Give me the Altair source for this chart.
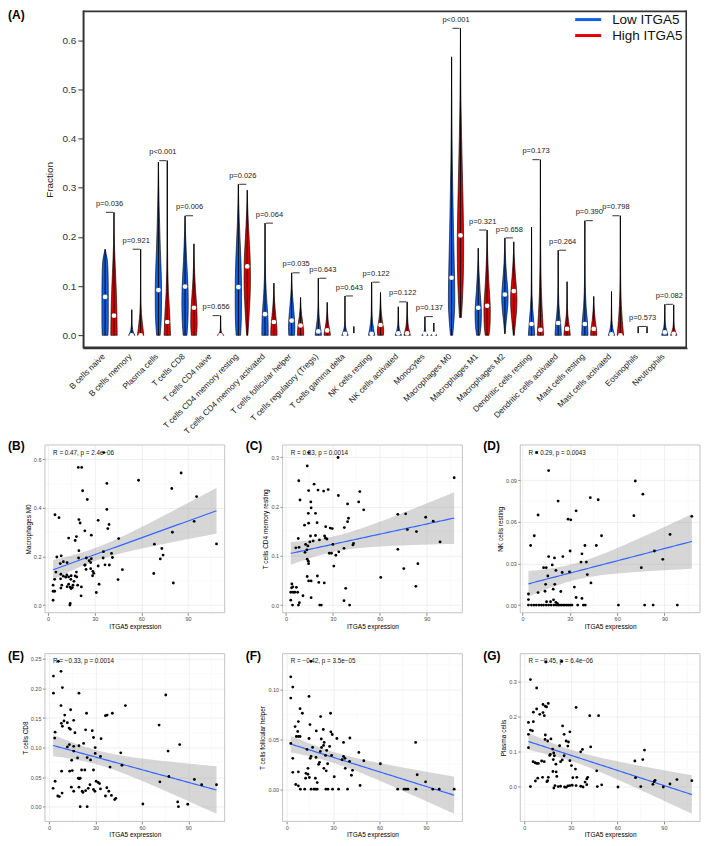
import altair as alt
import pandas as pd
import numpy as np

# ---------------- Panel A data (violins) ----------------
cells = ["B cells naive", "B cells memory", "Plasma cells", "T cells CD8", "T cells CD4 naive",
         "T cells CD4 memory resting", "T cells CD4 memory activated", "T cells follicular helper",
         "T cells regulatory (Tregs)", "T cells gamma delta", "NK cells resting", "NK cells activated",
         "Monocytes", "Macrophages M0", "Macrophages M1", "Macrophages M2", "Dendritic cells resting",
         "Dendritic cells activated", "Mast cells resting", "Mast cells activated", "Eosinophils", "Neutrophils"]

low_min = [0, 0, 0, 0, 0, 0, 0, 0, 0, 0, 0, 0, 0, 0, 0, 0.003, 0, 0, 0, 0, 0, 0]
low_max = [0.175, 0.052, 0.352, 0.243, 0.004, 0.307, 0.228, 0.127, 0.116, 0.080, 0.108, 0.058, 0.038,
           0.566, 0.177, 0.198, 0.220, 0.173, 0.233, 0.089, 0.018, 0.063]
low_med = [0.078, 0.0, 0.092, 0.099, 0.0, 0.098, 0.043, 0.030, 0.008, 0.003, 0.003, 0.004, 0.003,
           0.117, 0.056, 0.083, 0.023, 0.025, 0.023, 0.002, 0.0, 0.006]
high_min = [0, 0, 0, 0, 0, 0, 0, 0, 0, 0, 0, 0, 0, 0.036, 0, 0, 0, 0, 0, 0, 0, 0]
high_max = [0.250, 0.175, 0.355, 0.186, 0.040, 0.295, 0.106, 0.077, 0.067, 0.018, 0.087, 0.068, 0.025,
            0.624, 0.214, 0.190, 0.357, 0.109, 0.079, 0.243, 0.018, 0.062]
high_med = [0.040, 0.0, 0.027, 0.056, 0.0, 0.140, 0.027, 0.020, 0.010, 0.0, 0.021, 0.004, 0.003,
            0.203, 0.060, 0.090, 0.011, 0.013, 0.013, 0.0, 0.0, 0.003]

# relative violin widths, from the minimum (first) to the maximum (last)
low_shape = [
    [0.9, 1.0, 1.0, 1.0, 1.0, 0.97, 0.9, 0.7, 0.0],
    [1.0, 0.5, 0.25, 0.12, 0.06, 0.04, 0.03, 0.02, 0.0],
    [0.55, 0.95, 1.0, 0.85, 0.6, 0.4, 0.22, 0.1, 0.0],
    [0.6, 0.9, 1.0, 0.95, 0.75, 0.5, 0.3, 0.12, 0.0],
    [0.5, 0.4, 0.3, 0.2, 0.15, 0.1, 0.05, 0.02, 0.0],
    [0.7, 0.95, 1.0, 0.95, 0.8, 0.55, 0.3, 0.12, 0.0],
    [1.0, 0.95, 0.7, 0.4, 0.2, 0.1, 0.05, 0.03, 0.0],
    [0.9, 1.0, 0.9, 0.7, 0.5, 0.3, 0.15, 0.06, 0.0],
    [1.0, 0.7, 0.4, 0.2, 0.1, 0.06, 0.04, 0.02, 0.0],
    [1.0, 0.45, 0.15, 0.06, 0.04, 0.03, 0.02, 0.01, 0.0],
    [1.0, 0.6, 0.3, 0.15, 0.1, 0.07, 0.05, 0.03, 0.0],
    [1.0, 0.6, 0.3, 0.15, 0.1, 0.08, 0.05, 0.03, 0.0],
    [1.0, 0.45, 0.2, 0.1, 0.06, 0.04, 0.03, 0.02, 0.0],
    [0.35, 1.0, 0.85, 0.6, 0.4, 0.22, 0.1, 0.04, 0.0],
    [0.5, 0.9, 1.0, 0.85, 0.6, 0.4, 0.2, 0.08, 0.0],
    [0.05, 0.4, 0.8, 1.0, 0.8, 0.5, 0.25, 0.1, 0.0],
    [1.0, 0.7, 0.35, 0.15, 0.08, 0.05, 0.03, 0.02, 0.0],
    [1.0, 0.8, 0.45, 0.2, 0.1, 0.06, 0.04, 0.02, 0.0],
    [1.0, 0.8, 0.4, 0.18, 0.08, 0.05, 0.03, 0.02, 0.0],
    [1.0, 0.5, 0.25, 0.12, 0.08, 0.05, 0.03, 0.02, 0.0],
    [0.4, 0.1, 0.05, 0.03, 0.02, 0.02, 0.01, 0.01, 0.0],
    [1.0, 0.7, 0.35, 0.18, 0.1, 0.06, 0.04, 0.02, 0.0],
]
high_shape = [
    [1.0, 0.95, 0.85, 0.7, 0.5, 0.3, 0.12, 0.04, 0.0],
    [1.0, 0.6, 0.25, 0.1, 0.05, 0.03, 0.02, 0.015, 0.0],
    [1.0, 0.75, 0.35, 0.15, 0.08, 0.05, 0.03, 0.02, 0.0],
    [0.8, 1.0, 0.95, 0.75, 0.5, 0.3, 0.15, 0.06, 0.0],
    [1.0, 0.4, 0.15, 0.08, 0.05, 0.04, 0.03, 0.02, 0.0],
    [0.2, 0.55, 0.85, 1.0, 0.95, 0.7, 0.4, 0.15, 0.0],
    [1.0, 0.95, 0.8, 0.6, 0.4, 0.25, 0.12, 0.05, 0.0],
    [1.0, 0.95, 0.8, 0.6, 0.4, 0.25, 0.12, 0.05, 0.0],
    [1.0, 0.85, 0.6, 0.4, 0.25, 0.15, 0.08, 0.03, 0.0],
    [0.5, 0.2, 0.1, 0.05, 0.03, 0.02, 0.02, 0.01, 0.0],
    [0.9, 1.0, 0.75, 0.5, 0.3, 0.18, 0.1, 0.04, 0.0],
    [1.0, 0.7, 0.4, 0.25, 0.15, 0.1, 0.06, 0.03, 0.0],
    [1.0, 0.45, 0.2, 0.1, 0.06, 0.04, 0.03, 0.02, 0.0],
    [0.3, 0.85, 1.0, 0.85, 0.6, 0.35, 0.15, 0.05, 0.0],
    [0.6, 0.95, 1.0, 0.8, 0.55, 0.35, 0.18, 0.07, 0.0],
    [0.15, 0.5, 0.85, 1.0, 0.85, 0.55, 0.3, 0.1, 0.0],
    [1.0, 0.6, 0.3, 0.15, 0.08, 0.05, 0.03, 0.02, 0.0],
    [1.0, 0.8, 0.5, 0.25, 0.12, 0.07, 0.04, 0.02, 0.0],
    [1.0, 0.9, 0.7, 0.5, 0.35, 0.22, 0.12, 0.05, 0.0],
    [1.0, 0.6, 0.3, 0.15, 0.08, 0.05, 0.03, 0.02, 0.0],
    [0.4, 0.1, 0.05, 0.03, 0.02, 0.02, 0.01, 0.01, 0.0],
    [1.0, 0.55, 0.25, 0.12, 0.07, 0.05, 0.03, 0.02, 0.0],
]

p_labels = ["p=0.036", "p=0.921", "p<0.001", "p=0.006", "p=0.656", "p=0.026", "p=0.064", "p=0.035",
            "p=0.643", "p=0.643", "p=0.122", "p=0.122", "p=0.137", "p<0.001", "p=0.321", "p=0.658",
            "p=0.173", "p=0.264", "p=0.390", "p=0.798", "p=0.573", "p=0.082"]

group_names = ["Low ITGA5", "High ITGA5"]
group_colors = ["#1260e6", "#e30000"]
yticks_A = [0.0, 0.1, 0.2, 0.3, 0.4, 0.5, 0.6]

# ---------------- Scatter data (ITGA5 expression, fraction) ----------------
B_pts = [(35.8, 0.628), (19.4, 0.567), (21.6, 0.567), (22.2, 0.471), (37.8, 0.501), (58.2, 0.514), (85.6, 0.544),
         (79.6, 0.480), (95.6, 0.447), (25.2, 0.435), (4.4, 0.372), (7.0, 0.360), (37.8, 0.394), (19.8, 0.352),
         (20.6, 0.338), (32.2, 0.349), (39.2, 0.332), (38.4, 0.315), (23.6, 0.306), (80.0, 0.300), (94.0, 0.345),
         (108.4, 0.252), (27.8, 0.288), (18.2, 0.282), (17.4, 0.266), (13.2, 0.276), (45.4, 0.274), (68.4, 0.251),
         (73.2, 0.233), (74.0, 0.206), (72.2, 0.190), (68.0, 0.130), (80.6, 0.091), (47.8, 0.146), (45.0, 0.105),
         (40.8, 0.213), (41.4, 0.196), (39.4, 0.165), (35.6, 0.220), (35.4, 0.194), (36.6, 0.166), (32.2, 0.161),
         (32.8, 0.086), (31.0, 0.052), (28.8, 0.139), (28.6, 0.121), (29.4, 0.131), (27.8, 0.191), (26.4, 0.183),
         (27.4, 0.175), (27.4, 0.150), (24.6, 0.194), (23.8, 0.166), (24.4, 0.147), (23.6, 0.164), (19.8, 0.224),
         (19.6, 0.194), (18.4, 0.116), (19.0, 0.082), (21.2, 0.038), (21.4, 0.075), (18.2, 0.136), (16.6, 0.098),
         (12.2, 0.175), (9.8, 0.179), (8.4, 0.203), (7.8, 0.171), (8.2, 0.127), (9.8, 0.119), (11.4, 0.115),
         (13.2, 0.116), (14.8, 0.121), (14.6, 0.106), (12.0, 0.124), (13.2, 0.086), (12.2, 0.076), (14.2, 0.074),
         (14.8, 0.068), (14.2, 0.007), (14.0, 0.000), (15.6, 0.072), (8.0, 0.108), (8.8, 0.082), (8.2, 0.070),
         (5.0, 0.136), (5.6, 0.198), (4.2, 0.106), (3.2, 0.082), (3.2, 0.057), (4.2, 0.057), (3.2, 0.020),
         (16.0, 0.082), (17.4, 0.120)]

C_pts = [(14.5, 0.309), (33.3, 0.299), (13.6, 0.282), (8.2, 0.252), (107.5, 0.258), (18.0, 0.245), (9.0, 0.213),
         (14.5, 0.232), (20.5, 0.233), (27.0, 0.234), (24.1, 0.231), (47.2, 0.230), (49.7, 0.193), (46.5, 0.209),
         (33.5, 0.222), (39.4, 0.205), (40.0, 0.176), (39.4, 0.169), (15.9, 0.209), (16.1, 0.197), (14.3, 0.186),
         (18.9, 0.186), (14.5, 0.166), (11.9, 0.162), (19.9, 0.167), (25.4, 0.159), (28.3, 0.156), (29.6, 0.155),
         (37.3, 0.157), (21.4, 0.132), (25.2, 0.136), (26.2, 0.134), (24.7, 0.140), (18.9, 0.141), (15.7, 0.140),
         (17.4, 0.130), (15.3, 0.128), (14.0, 0.120), (12.6, 0.123), (13.4, 0.112), (8.4, 0.117), (6.3, 0.116),
         (7.9, 0.135), (12.2, 0.107), (13.6, 0.093), (14.3, 0.089), (14.5, 0.084), (27.7, 0.105), (29.1, 0.105),
         (30.0, 0.123), (31.9, 0.101), (33.8, 0.108), (30.6, 0.079), (37.1, 0.115), (42.8, 0.122), (43.2, 0.125),
         (71.5, 0.184), (76.5, 0.185), (77.6, 0.153), (89.3, 0.178), (94.1, 0.170), (83.4, 0.149), (98.5, 0.128),
         (71.5, 0.113), (75.3, 0.074), (84.3, 0.084), (83.0, 0.038), (60.6, 0.056), (38.2, 0.034), (37.1, 0.009),
         (40.7, 0.0), (13.6, 0.058), (14.5, 0.049), (20.1, 0.059), (21.0, 0.046), (24.5, 0.045), (16.1, 0.049),
         (16.1, 0.015), (22.6, 0.0), (21.6, 0.0), (3.8, 0.043), (3.6, 0.035), (3.1, 0.026), (4.6, 0.026),
         (5.7, 0.026), (6.7, 0.036), (7.5, 0.026), (3.1, 0.010), (4.2, 0.0), (8.0, 0.0), (8.6, 0.005),
         (10.9, 0.019), (4.4, 0.037)]

D_pts = [(9.0, 0.110), (16.6, 0.097), (71.5, 0.0895), (76.3, 0.080), (43.0, 0.0775), (48.0, 0.076), (22.6, 0.075),
         (34.0, 0.068), (9.9, 0.065), (70.6, 0.0645), (28.9, 0.062), (30.6, 0.0615), (107.3, 0.064), (7.5, 0.050),
         (50.1, 0.050), (93.5, 0.051), (39.6, 0.043), (46.8, 0.043), (5.2, 0.043), (30.2, 0.039), (83.6, 0.039),
         (37.7, 0.037), (16.6, 0.035), (25.6, 0.035), (20.3, 0.034), (37.1, 0.031), (40.5, 0.031), (75.3, 0.027),
         (88.9, 0.033), (18.9, 0.029), (13.4, 0.027), (15.1, 0.027), (21.2, 0.025), (25.2, 0.0235), (29.8, 0.024),
         (16.1, 0.021), (41.1, 0.022), (14.7, 0.015), (20.5, 0.015), (43.4, 0.016), (32.9, 0.013), (19.5, 0.0115),
         (14.3, 0.010), (24.3, 0.0098), (9.9, 0.009), (34.0, 0.0055), (37.7, 0.0048), (3.8, 0.008), (3.8, 0.004),
         (19.7, 0.0038), (15.3, 0.0024), (17.8, 0.0024), (21.2, 0.002), (22.2, 0.001),
         (3.8, 0.0), (5.7, 0.0), (7.3, 0.0), (8.8, 0.0), (10.5, 0.0), (12.0, 0.0), (13.4, 0.0), (15.1, 0.0),
         (16.6, 0.0), (18.2, 0.0), (19.9, 0.0), (21.4, 0.0), (22.6, 0.0), (23.7, 0.0), (24.7, 0.0), (25.8, 0.0),
         (26.8, 0.0), (28.1, 0.0), (29.1, 0.0), (30.2, 0.0), (31.4, 0.0), (35.0, 0.0), (38.6, 0.0), (39.8, 0.0),
         (60.8, 0.0), (77.4, 0.0), (82.8, 0.0), (98.1, 0.0)]

E_pts = [(6.0, 0.246), (7.7, 0.229), (2.8, 0.221), (2.8, 0.192), (8.6, 0.2015), (19.3, 0.192), (75.4, 0.189),
         (49.3, 0.171), (7.7, 0.171), (10.1, 0.155), (13.9, 0.164), (24.2, 0.158), (36.4, 0.154), (37.5, 0.155),
         (40.9, 0.158), (9.6, 0.145), (11.8, 0.142), (15.9, 0.146), (7.9, 0.141), (8.6, 0.136), (12.9, 0.133),
         (13.7, 0.131), (16.7, 0.125), (23.6, 0.130), (27.9, 0.1285), (71.1, 0.138), (3.9, 0.126), (3.6, 0.116),
         (28.7, 0.117), (33.6, 0.115), (13.1, 0.105), (22.3, 0.107), (11.8, 0.101), (15.9, 0.102), (19.3, 0.103),
         (29.8, 0.100), (84.4, 0.105), (15.9, 0.094), (29.8, 0.090), (46.3, 0.091), (76.9, 0.094), (24.6, 0.083),
         (18.4, 0.0825), (26.8, 0.079), (14.6, 0.0785), (33.2, 0.085), (47.1, 0.070), (39.4, 0.067), (77.4, 0.051),
         (71.6, 0.042), (93.9, 0.046), (98.6, 0.037), (108.2, 0.037), (8.1, 0.060), (13.3, 0.060), (15.0, 0.061),
         (21.0, 0.062), (23.1, 0.062), (28.7, 0.062), (18.9, 0.048), (20.1, 0.048), (19.5, 0.047), (3.9, 0.043),
         (30.4, 0.043), (31.7, 0.041), (32.6, 0.039), (26.4, 0.037), (37.3, 0.032), (19.3, 0.033), (14.4, 0.033),
         (2.6, 0.031), (28.7, 0.029), (29.6, 0.026), (33.2, 0.030), (21.9, 0.024), (23.6, 0.027), (25.3, 0.031),
         (38.6, 0.026), (40.3, 0.019), (36.4, 0.018), (42.4, 0.012), (43.1, 0.014), (5.6, 0.018), (6.6, 0.017),
         (8.4, 0.023), (15.9, 0.026), (20.1, 0.0), (24.6, 0.0), (60.6, 0.0045), (83.1, 0.008), (83.6, 0.0),
         (89.6, 0.004), (21.4, 0.026)]

F_pts = [(15.7, 0.1286), (2.6, 0.113), (3.9, 0.1027), (2.6, 0.0916), (14.4, 0.0933), (8.6, 0.081), (10.1, 0.0764),
         (28.3, 0.0764), (21.9, 0.073), (7.5, 0.068), (15.0, 0.065), (5.4, 0.063), (7.1, 0.058), (7.5, 0.053),
         (6.2, 0.053), (8.6, 0.053), (19.1, 0.0586), (23.6, 0.060), (28.5, 0.0576), (29.4, 0.055), (32.4, 0.051),
         (40.8, 0.0515), (36.7, 0.047), (14.4, 0.051), (22.3, 0.0505), (24.2, 0.047), (23.8, 0.044), (22.5, 0.042),
         (16.7, 0.042), (13.1, 0.040), (2.6, 0.046), (27.7, 0.043), (25.8, 0.039), (21.7, 0.038), (15.7, 0.033),
         (15.2, 0.031), (18.9, 0.032), (25.1, 0.034), (29.0, 0.034), (36.7, 0.033), (37.6, 0.031), (46.6, 0.037),
         (3.9, 0.031), (35.8, 0.0296), (40.6, 0.028), (26.4, 0.0256), (21.2, 0.027), (37.8, 0.021), (42.5, 0.019),
         (49.8, 0.0286), (60.5, 0.0256), (83.3, 0.047), (84.3, 0.0145), (89.7, 0.0074), (24.0, 0.021),
         (25.5, 0.0185), (20.6, 0.025), (30.7, 0.0125), (41.8, 0.014), (47.4, 0.0037), (13.7, 0.021), (13.7, 0.015),
         (14.6, 0.0118), (12.2, 0.011), (12.4, 0.016), (7.5, 0.0175), (3.9, 0.017), (19.7, 0.0067), (18.5, 0.011),
         (5.8, 0.0047), (7.5, 0.0034), (8.8, 0.0), (11.6, 0.0), (15.7, 0.0), (17.6, 0.0), (18.7, 0.0), (19.7, 0.0),
         (25.3, 0.0), (26.6, 0.0), (29.6, 0.0), (33.5, 0.0), (39.3, 0.0), (71.7, 0.0), (75.8, 0.0), (77.0, 0.0),
         (78.3, 0.0), (83.5, 0.0), (94.4, 0.0), (98.5, 0.0), (108.2, 0.0)]

G_pts = [(14.0, 0.356), (24.1, 0.358), (4.0, 0.306), (8.0, 0.282), (8.0, 0.222), (10.0, 0.207), (5.9, 0.213),
         (12.1, 0.235), (13.6, 0.230), (15.5, 0.238), (14.4, 0.228), (12.1, 0.212), (12.9, 0.203), (33.4, 0.2265),
         (47.9, 0.203), (2.7, 0.184), (5.9, 0.186), (24.7, 0.174), (29.4, 0.157), (25.7, 0.150), (13.6, 0.148),
         (2.7, 0.150), (4.0, 0.162), (5.3, 0.160), (13.4, 0.1355), (15.1, 0.131), (17.2, 0.137), (27.0, 0.131),
         (28.1, 0.1165), (28.5, 0.128), (22.8, 0.1175), (18.3, 0.108), (2.7, 0.112), (16.8, 0.093), (19.0, 0.097),
         (19.4, 0.089), (25.7, 0.089), (16.4, 0.090), (20.4, 0.065), (18.7, 0.078), (23.4, 0.072), (24.5, 0.077),
         (29.4, 0.075), (5.7, 0.072), (7.0, 0.069), (8.0, 0.067), (9.1, 0.067), (11.2, 0.074), (12.9, 0.072),
         (30.4, 0.061), (33.0, 0.051), (36.4, 0.100), (37.5, 0.107), (42.8, 0.114), (42.2, 0.203), (33.9, 0.0275),
         (31.3, 0.0265), (15.5, 0.0275), (15.1, 0.018), (14.6, 0.015), (11.8, 0.0275), (18.5, 0.044), (20.6, 0.043),
         (21.0, 0.030), (8.7, 0.025), (7.2, 0.017), (19.8, 0.004), (19.1, -0.003), (21.9, 0.001), (23.4, 0.002),
         (26.0, 0.0), (27.0, -0.001), (28.1, 0.003), (29.4, 0.004), (30.9, 0.005), (33.4, 0.004), (36.4, 0.002),
         (37.9, 0.0), (39.2, 0.014), (40.3, 0.023), (40.3, 0.0066), (40.9, 0.0275), (46.7, 0.046), (47.1, 0.001),
         (49.9, 0.006), (60.4, 0.0), (71.3, 0.074), (76.4, 0.078), (77.5, 0.105), (71.7, 0.0265), (75.1, 0.001),
         (82.9, 0.0076), (84.3, 0.019), (83.7, 0.015), (89.6, 0.0), (93.9, 0.0085), (98.4, 0.021), (108.0, 0.018),
         (4.0, 0.001)]

# ---------------- Panel A ----------------
OFF = 38          # panel A's plotting box starts this far right of the scatter panels' left edge
PW, HA = 605, 338
WA = OFF + PW
XDOM_A = [-2.5, 65.5]
YDOM_A = [-0.026, 0.66]
HW = 0.36
vrows, mrows, wrows = [], [], []
for i in range(len(cells)):
    specs = [(low_min[i], low_max[i], low_med[i], low_shape[i]),
             (high_min[i], high_max[i], high_med[i], high_shape[i])]
    for g, (mn, mx, md, sh) in enumerate(specs):
        pos = 3 * i + g
        vid = f"v{i}_{g}"
        nk = len(sh)
        for k, w in enumerate(sh):
            v = mn + (mx - mn) * k / (nk - 1)
            vrows.append(dict(vid=vid, grp=group_names[g], value=v, left=pos - HW * w, right=pos + HW * w))
        mrows.append(dict(pos=pos, med=md))
        wrows.append(dict(pos=pos, lo=mn, hi=mx))
viol_df = pd.DataFrame(vrows)
med_df = pd.DataFrame(mrows)
whisk_df = pd.DataFrame(wrows)
br_df = pd.DataFrame(dict(
    x1=[3 * i + 0.1 for i in range(len(cells))],
    x2=[3 * i + 0.9 for i in range(len(cells))],
    xm=[3 * i + 0.5 for i in range(len(cells))],
    y=[max(low_max[i], high_max[i]) for i in range(len(cells))],
    label=p_labels))

# frame of panel A drawn as four thin filled bars along the scale domain edges
tx = 1.6 * (XDOM_A[1] - XDOM_A[0]) / PW
ty = 1.6 * (YDOM_A[1] - YDOM_A[0]) / HA
box_df = pd.DataFrame({
    "x1": [XDOM_A[0], XDOM_A[0], XDOM_A[0], XDOM_A[1] - tx],
    "x2": [XDOM_A[1], XDOM_A[1], XDOM_A[0] + tx, XDOM_A[1]],
    "y1": [YDOM_A[1] - ty, YDOM_A[0], YDOM_A[0], YDOM_A[0]],
    "y2": [YDOM_A[1], YDOM_A[0] + ty, YDOM_A[1], YDOM_A[1]],
})

xsA = alt.Scale(domain=XDOM_A, range=[OFF, WA], nice=False, zero=False)
ysA = alt.Scale(domain=YDOM_A, nice=False, zero=False)
label_expr = "[" + ",".join("'" + c + "'" for c in cells) + "][floor(datum.value / 3)]"
xaxA = alt.Axis(values=[3 * i + 0.5 for i in range(len(cells))], labelExpr=label_expr, labelAngle=-45,
                labelAlign="right", labelBaseline="middle", labelFontSize=8.3, labelColor="#1a1a1a",
                labelPadding=7, labelOffset=-6, ticks=False, domain=True, domainColor="#333333",
                domainWidth=1.5, grid=False, labelOverlap=False, labelFlush=False, title=None)
yaxA = alt.Axis(values=yticks_A, format=".1f", tickSize=5, tickColor="#333333", labelFontSize=10,
                labelColor="#333333", labelPadding=2, domain=True, domainColor="#333333", domainWidth=1.5,
                grid=False, title="Fraction",
                titleFontSize=10, titleFontWeight="normal", titleColor="#222222", titlePadding=8,
                offset=-OFF)


def XA(f):
    return alt.X(f, scale=xsA, axis=xaxA)


def YA(f):
    return alt.Y(f, scale=ysA, axis=yaxA)


one = pd.DataFrame({"k": [0]})

violins = alt.Chart(viol_df).mark_area(orient="horizontal", interpolate="monotone", stroke="black",
                                        strokeWidth=0.6, opacity=1).encode(
    y=YA("value:Q"), x=XA("left:Q"), x2="right:Q",
    color=alt.Color("grp:N", scale=alt.Scale(domain=group_names, range=group_colors), legend=None),
    detail="vid:N")
whiskers = alt.Chart(whisk_df).mark_rule(color="black", strokeWidth=0.9).encode(
    x=XA("pos:Q"), y=YA("lo:Q"), y2="hi:Q")
medians = alt.Chart(med_df).mark_circle(color="white", size=22, opacity=1).encode(
    x=XA("pos:Q"), y=YA("med:Q"))
brackets = alt.Chart(br_df).mark_rule(color="black", strokeWidth=0.8).encode(
    x=XA("x1:Q"), x2="x2:Q", y=YA("y:Q"))
plabels = alt.Chart(br_df).transform_calculate(ty="datum.y + 0.017").mark_text(
    fontSize=7.5, color="#222222", baseline="middle").encode(x=XA("xm:Q"), y=YA("ty:Q"), text="label:N")
boxA = alt.Chart(box_df).mark_rect(color="#333333", opacity=1).encode(
    x=XA("x1:Q"), x2="x2:Q", y=YA("y1:Q"), y2="y2:Q")

leg_layers = []
for gi, (nm, col) in enumerate(zip(group_names, group_colors)):
    yy = 9 + 16 * gi
    leg_layers.append(alt.Chart(one).mark_rule(color=col, strokeWidth=3).encode(
        x=alt.value(OFF + 493), x2=alt.value(OFF + 519), y=alt.value(yy)))
    leg_layers.append(alt.Chart(one).mark_text(align="left", baseline="middle", fontSize=13.5,
                                               color="#111111").encode(
        x=alt.value(OFF + 530), y=alt.value(yy), text=alt.value(nm)))
letterA = alt.Chart(one).mark_text(align="left", baseline="top", fontSize=12, fontWeight="bold").encode(
    x=alt.value(-37), y=alt.value(-1), text=alt.value("(A)"))

panelA = alt.layer(violins, whiskers, medians, brackets, plabels, boxA, *leg_layers,
                   letterA).properties(width=WA, height=HA)

# ---------------- Scatter panels ----------------
T975 = 1.986
WS = 180


def minor_of(vals, lo, hi):
    step = vals[1] - vals[0]
    cand = [vals[0] - step / 2] + [v + step / 2 for v in vals]
    return [c for c in cand if lo < c < hi]


def scatter(pts, ylab, yvals, yfmt, ann, letter, letter_dy, h, spacer=None):
    xs = np.array([p[0] for p in pts], dtype=float)
    ys = np.array([p[1] for p in pts], dtype=float)
    n = len(xs)
    b, a = np.polyfit(xs, ys, 1)
    gx = np.linspace(xs.min(), xs.max(), 80)
    fit = a + b * gx
    s = np.sqrt(((ys - (a + b * xs)) ** 2).sum() / (n - 2))
    se = s * np.sqrt(1.0 / n + (gx - xs.mean()) ** 2 / ((xs - xs.mean()) ** 2).sum())
    band = pd.DataFrame({"x": gx, "fit": fit, "lo": fit - T975 * se, "hi": fit + T975 * se})
    xr = xs.max() - xs.min()
    xdom = [xs.min() - 0.05 * xr, xs.max() + 0.05 * xr]
    ylo = min(ys.min(), band["lo"].min())
    yhi = max(ys.max(), band["hi"].max())
    yr = yhi - ylo
    ydom = [ylo - 0.05 * yr, yhi + 0.05 * yr]
    xsc = alt.Scale(domain=xdom, nice=False, zero=False)
    ysc = alt.Scale(domain=ydom, nice=False, zero=False)
    xvals = [0, 30, 60, 90]
    xax = alt.Axis(values=xvals, grid=True, gridColor="#ebebeb", gridWidth=0.8, domain=False,
                   tickColor="#333333", tickSize=2.5, tickWidth=0.6, labelFontSize=5.5,
                   labelColor="#4d4d4d", labelPadding=1.5, title="ITGA5 expression",
                   titleFontSize=6.5, titleFontWeight="normal", titleColor="#000000", titlePadding=1)
    yax = alt.Axis(values=yvals, format=yfmt, grid=True, gridColor="#ebebeb", gridWidth=0.8, domain=False,
                   tickColor="#333333", tickSize=2.5, tickWidth=0.6, labelFontSize=5.5,
                   labelColor="#4d4d4d", labelPadding=1.5, title=ylab,
                   titleFontSize=6.5, titleFontWeight="normal", titleColor="#000000", titlePadding=2)

    def X(f):
        return alt.X(f, scale=xsc, axis=xax)

    def Y(f):
        return alt.Y(f, scale=ysc, axis=yax)

    df = pd.DataFrame({"x": xs, "y": ys})
    mx = pd.DataFrame({"v": minor_of(xvals, *xdom)})
    my = pd.DataFrame({"v": minor_of(yvals, *ydom)})
    ann_df = pd.DataFrame({"x": [xs.min()], "y": [ys.max()], "t": [ann]})
    fr = alt.Chart(one).mark_rule(color="#b5b5b5", strokeWidth=0.8)
    layers = [
        alt.Chart(mx).mark_rule(color="#f4f4f4", strokeWidth=0.5).encode(x=X("v:Q")),
        alt.Chart(my).mark_rule(color="#f4f4f4", strokeWidth=0.5).encode(y=Y("v:Q")),
        alt.Chart(band).mark_area(color="#999999", opacity=0.4).encode(x=X("x:Q"), y=Y("lo:Q"), y2="hi:Q"),
        alt.Chart(band).mark_line(color="#3366FF", strokeWidth=1.2).encode(x=X("x:Q"), y=Y("fit:Q")),
        alt.Chart(df).mark_circle(color="black", size=8, opacity=1).encode(x=X("x:Q"), y=Y("y:Q")),
        alt.Chart(ann_df).mark_text(align="left", baseline="middle", fontSize=6.3, color="#111111").encode(
            x=X("x:Q"), y=Y("y:Q"), text="t:N"),
        fr.encode(x=alt.value(0), x2=alt.value(WS), y=alt.value(0)),
        fr.encode(x=alt.value(0), x2=alt.value(WS), y=alt.value(h)),
        fr.encode(x=alt.value(0), y=alt.value(0), y2=alt.value(h)),
        fr.encode(x=alt.value(WS), y=alt.value(0), y2=alt.value(h)),
        alt.Chart(one).mark_text(align="left", baseline="top", fontSize=12, fontWeight="bold").encode(
            x=alt.value(-37), y=alt.value(letter_dy), text=alt.value(letter)),
    ]
    if spacer is not None:
        layers.append(alt.Chart(one).mark_text(align="left", baseline="top", fontSize=3).encode(
            x=alt.value(5), y=alt.value(spacer), text=alt.value(" ")))
    return alt.layer(*layers).properties(width=WS, height=h)


pB = scatter(B_pts, "Macrophages M0", [0.0, 0.2, 0.4, 0.6], ".1f", "R = 0.47, p = 2.4e\u221206", "(B)", -4, 168)
pC = scatter(C_pts, "T cells CD4 memory resting", [0.0, 0.1, 0.2, 0.3], ".1f", "R = 0.33, p = 0.0014", "(C)", -4, 168)
pD = scatter(D_pts, "NK cells resting", [0.0, 0.03, 0.06, 0.09], ".2f", "R = 0.29, p = 0.0043", "(D)", -4, 168)
pE = scatter(E_pts, "T cells CD8", [0.0, 0.05, 0.10, 0.15, 0.20, 0.25], ".2f", "R = \u22120.33, p = 0.0014", "(E)", -3, 168, spacer=-20)
pF = scatter(F_pts, "T cells follicular helper", [0.0, 0.05, 0.10], ".2f", "R = \u22120.42, p = 3.5e\u221205", "(F)", -3, 168, spacer=-20)
pG = scatter(G_pts, "Plasma cells", [-0.1, 0.0, 0.1, 0.2, 0.3], ".1f", "R = \u22120.45, p = 6.4e\u221206", "(G)", -3, 168, spacer=-20)

row1 = alt.hconcat(pB, pC, pD, spacing=20)
row2 = alt.hconcat(pE, pF, pG, spacing=20)

chart = alt.vconcat(panelA, row1, row2, spacing=4).properties(padding=0).configure(
    font="Liberation Sans").configure_view(strokeWidth=0)

chart.save("out.html", embed_options={"renderer": "svg", "actions": False})
